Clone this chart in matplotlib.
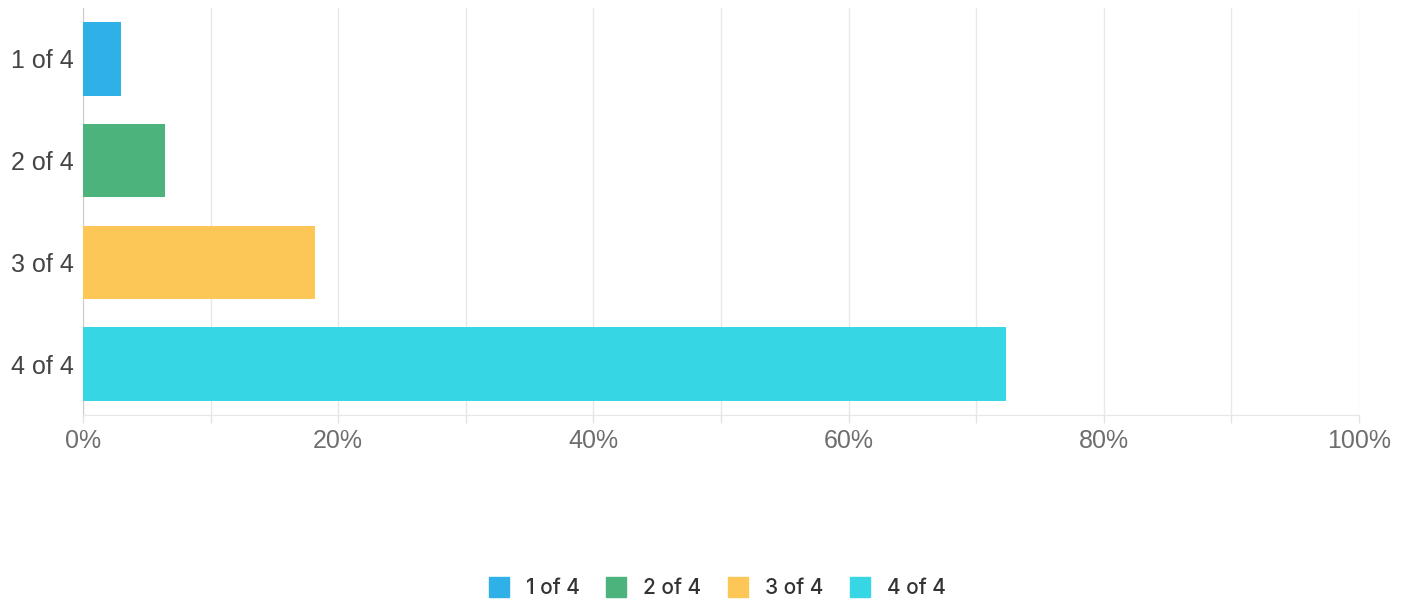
import matplotlib.pyplot as plt
from matplotlib.lines import Line2D
import numpy as np

categories = ['1 of 4', '2 of 4', '3 of 4', '4 of 4']
percents = [3.0, 6.4, 18.2, 72.3]
colors = ['#2fb0e6', '#4bb37b', '#fcc757', '#36d6e4']
xtick_vals = list(range(0, 101, 10))
xtick_labels = ['0%', '', '20%', '', '40%', '', '60%', '', '80%', '', '100%']

fig = plt.figure(figsize=(14.11, 6.03), dpi=100)
ax = fig.add_axes([83 / 1411, 1 - 415 / 603, (1359 - 83) / 1411, (415 - 8) / 603])

ypos = np.arange(len(categories))
ax.barh(ypos, percents, height=0.72, color=colors, zorder=3)

ax.set_xlim(0, 100)
ax.set_ylim(3.5, -0.5)
ax.set_yticks(ypos)
ax.set_yticklabels(categories, fontsize=18, color='#444444', family='Liberation Sans')
ax.tick_params(axis='y', length=0, pad=6.5)

ax.set_xticks(xtick_vals)
ax.set_xticklabels(xtick_labels, fontsize=18, color='#6e6e6e', family='Liberation Sans')
ax.tick_params(axis='x', length=6, color='#e3e3e3', width=1, pad=4)
ax.grid(axis='x', color='#e8e8e8', lw=1, zorder=0)

for s in ['top', 'right']:
    ax.spines[s].set_visible(False)
ax.spines['left'].set_color('#cccccc')
ax.spines['bottom'].set_color('#e6e6e6')

handles = [Line2D([], [], marker='s', linestyle='none', markersize=14.5,
                  markerfacecolor=c, markeredgecolor=c) for c in colors]
fig.legend(handles, categories, loc='center', bbox_to_anchor=(0.508, 1 - 588 / 603),
           ncol=4, frameon=False, handlelength=1.0, handletextpad=0.8, columnspacing=1.25,
           prop={'family': 'Inter', 'size': 15, 'weight': 'medium'},
           labelcolor='#333333')

fig.savefig('out.png', dpi=100)
